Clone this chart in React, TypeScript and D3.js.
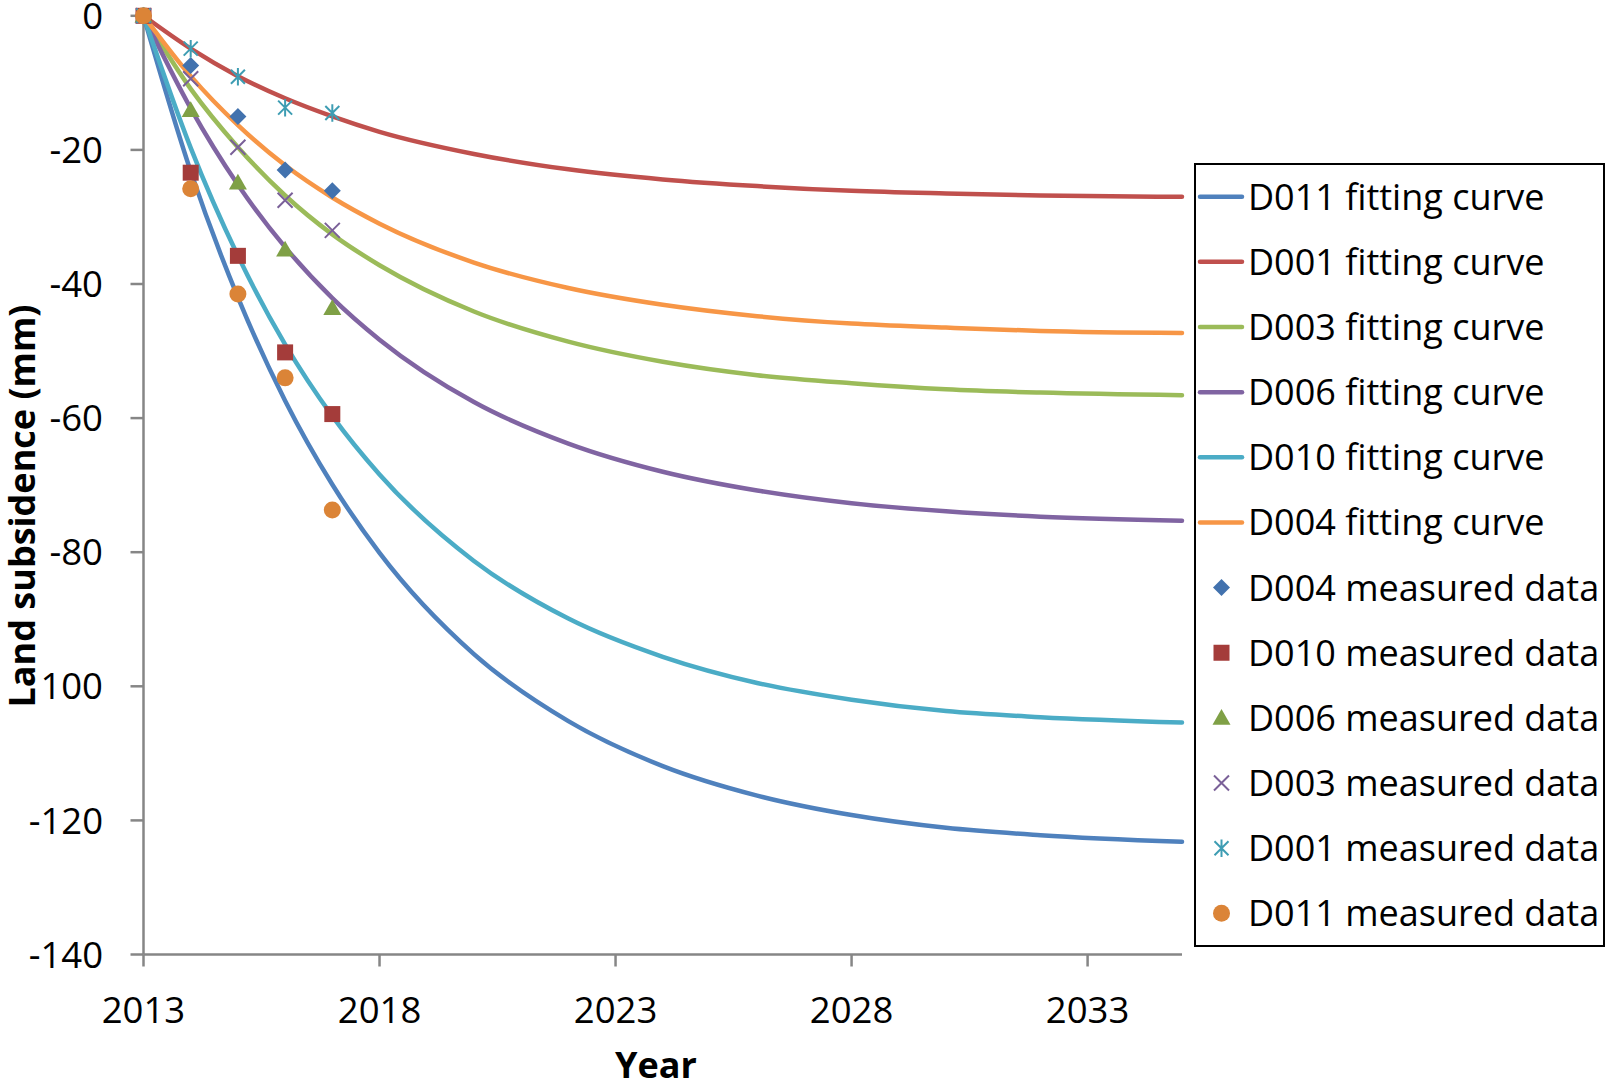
import React from 'react';
import * as d3 from 'd3';

// ---- data ----
const fitYears = [2013, 2014, 2015, 2016, 2017, 2018, 2020, 2022, 2024, 2026, 2028, 2030, 2032, 2035];
const fitD011 = [0, -23.2, -42.0, -57.4, -69.9, -80.1, -95.2, -105.2, -111.9, -116.3, -119.2, -121.1, -122.2, -123.2];
const fitD001 = [0, -4.9, -9.0, -12.3, -15.0, -17.3, -20.6, -22.9, -24.4, -25.4, -26.1, -26.5, -26.8, -27.0];
const fitD003 = [0, -10.9, -19.6, -26.8, -32.6, -37.2, -44.1, -48.6, -51.6, -53.6, -54.8, -55.7, -56.2, -56.6];
const fitD006 = [0, -13.8, -25.2, -34.5, -42.1, -48.3, -57.6, -63.8, -68.0, -70.8, -72.7, -73.9, -74.7, -75.3];
const fitD010 = [0, -19.7, -35.8, -49.0, -59.7, -68.4, -81.3, -89.9, -95.6, -99.5, -102.0, -103.7, -104.6, -105.4];
const fitD004 = [0, -9.0, -16.3, -22.3, -27.1, -31.0, -36.8, -40.6, -43.1, -44.8, -45.9, -46.5, -47.0, -47.3];

const measYears = [2013, 2014, 2015, 2016, 2017];
const measD004 = [0, -7.4, -15.0, -23.0, -26.1];
const measD010 = [0, -23.4, -35.8, -50.2, -59.4];
const measD006 = [0, -14.1, -24.9, -34.9, -43.6];
const measD003 = [0, -9.4, -19.6, -27.5, -32.0];
const measD001 = [0, -4.9, -9.1, -13.7, -14.5];
const measD011 = [0, -25.8, -41.5, -54.0, -73.7];

const xTicks = [2013, 2018, 2023, 2028, 2033];
const yTicks = [0, -20, -40, -60, -80, -100, -120, -140];
const yTickLabels = ['0', '-20', '-40', '-60', '-80', '100', '-120', '-140'];

const fitNames = ['D011 fitting curve', 'D001 fitting curve', 'D003 fitting curve', 'D006 fitting curve', 'D010 fitting curve', 'D004 fitting curve'];
const measNames = ['D004 measured data', 'D010 measured data', 'D006 measured data', 'D003 measured data', 'D001 measured data', 'D011 measured data'];

// ---- styles ----
const lineColors = ['#4F81BD', '#C0504D', '#9BBB59', '#8064A2', '#4BACC6', '#F79646'];
const markerColors = ['#4272AE', '#A43C3A', '#7FA046', '#7A6098', '#3E9DB3', '#DB8437'];
const markerKinds = ['diamond', 'square', 'triangle', 'x', 'star', 'circle'];

const FONT = '"Open Sans", sans-serif';

const W = 1607, H = 1086;
const x = d3.scaleLinear().domain([2013, 2035]).range([143.5, 1182]);
const y = d3.scaleLinear().domain([-140, 0]).range([954.5, 15.8]);

function Marker({ kind, cx, cy, color }: { kind: string; cx: number; cy: number; color: string }) {
  switch (kind) {
    case 'diamond': {
      const r = 8.5;
      return <path d={`M${cx},${cy - r}L${cx + r},${cy}L${cx},${cy + r}L${cx - r},${cy}Z`} fill={color} />;
    }
    case 'square': {
      const s = 8;
      return <rect x={cx - s} y={cy - s} width={2 * s} height={2 * s} fill={color} />;
    }
    case 'triangle': {
      const s = 9;
      return <path d={`M${cx},${cy - s}L${cx + s},${cy + s * 0.75}L${cx - s},${cy + s * 0.75}Z`} fill={color} />;
    }
    case 'circle':
      return <circle cx={cx} cy={cy} r={8.5} fill={color} />;
    case 'x': {
      const s = 7.5;
      return (
        <path d={`M${cx - s},${cy - s}L${cx + s},${cy + s}M${cx - s},${cy + s}L${cx + s},${cy - s}`} stroke={color} strokeWidth={2} fill="none" />
      );
    }
    case 'star': {
      const s = 7;
      return (
        <path
          d={`M${cx - s},${cy - s}L${cx + s},${cy + s}M${cx - s},${cy + s}L${cx + s},${cy - s}M${cx},${cy - s * 1.25}L${cx},${cy + s * 1.25}`}
          stroke={color}
          strokeWidth={2}
          fill="none"
        />
      );
    }
  }
  return null;
}

export default function App() {
  const fits = [fitD011, fitD001, fitD003, fitD006, fitD010, fitD004];
  const meas = [measD004, measD010, measD006, measD003, measD001, measD011];
  const line = d3
    .line<number>()
    .x((_, i) => x(fitYears[i]))
    .y((d) => y(d))
    .curve(d3.curveMonotoneX);

  const axisColor = '#868686';
  const legX = 1195, legY = 164, legW = 409, legH = 782;
  const legRow0 = 196.7, legStep = 65.15;
  const fs = 36.5;
  const lfs = 36;

  return (
    <svg width={W} height={H} style={{ position: 'absolute', left: 0, top: 0, background: '#fff' }} fontFamily={FONT}>
      <rect x={0} y={0} width={W} height={H} fill="#fff" />
      {/* axes */}
      <line x1={x(2013)} x2={x(2013)} y1={y(0)} y2={y(-140)} stroke={axisColor} strokeWidth={2.5} />
      <line x1={x(2013)} x2={x(2035)} y1={y(-140)} y2={y(-140)} stroke={axisColor} strokeWidth={2.5} />
      {yTicks.map((t, i) => (
        <g key={'yt' + t}>
          <line x1={x(2013) - 13} x2={x(2013)} y1={y(t)} y2={y(t)} stroke={axisColor} strokeWidth={2.5} />
          <text x={103} y={y(t) + fs * 0.36} fontSize={fs} textAnchor="end" fill="#000">
            {yTickLabels[i]}
          </text>
        </g>
      ))}
      {xTicks.map((t) => (
        <g key={'xt' + t}>
          <line x1={x(t)} x2={x(t)} y1={y(-140)} y2={y(-140) + 12} stroke={axisColor} strokeWidth={2.5} />
          <text x={x(t)} y={1023} fontSize={fs} textAnchor="middle" fill="#000">
            {t}
          </text>
        </g>
      ))}
      {/* axis titles */}
      <text x={656} y={1078} fontSize={36} fontWeight="bold" textAnchor="middle" fill="#000">
        Year
      </text>
      <text
        transform={`translate(35,506) rotate(-90)`}
        fontSize={36}
        fontWeight="bold"
        textAnchor="middle"
        fill="#000"
      >
        Land subsidence (mm)
      </text>
      {/* fitting curves */}
      {fits.map((s, i) => (
        <path key={'f' + i} d={line(s) || ''} fill="none" stroke={lineColors[i]} strokeWidth={4.5} strokeLinecap="round" />
      ))}
      {/* measured data */}
      {meas.map((s, i) =>
        s.map((v, j) => <Marker key={'m' + i + '-' + j} kind={markerKinds[i]} cx={x(measYears[j])} cy={y(v)} color={markerColors[i]} />)
      )}
      {/* legend */}
      <rect x={legX} y={legY} width={legW} height={legH} fill="#fff" stroke="#000" strokeWidth={2} />
      {fitNames.map((n, i) => {
        const cy = legRow0 + i * legStep;
        return (
          <g key={'lf' + i}>
            <line x1={1200} x2={1242} y1={cy} y2={cy} stroke={lineColors[i]} strokeWidth={4.5} strokeLinecap="round" />
            <text x={1248} y={cy + lfs * 0.36} fontSize={lfs} fill="#000">
              {n}
            </text>
          </g>
        );
      })}
      {measNames.map((n, i) => {
        const cy = legRow0 + (i + 6) * legStep;
        return (
          <g key={'lm' + i}>
            <Marker kind={markerKinds[i]} cx={1221.5} cy={cy} color={markerColors[i]} />
            <text x={1248} y={cy + lfs * 0.36} fontSize={lfs} fill="#000">
              {n}
            </text>
          </g>
        );
      })}
    </svg>
  );
}
